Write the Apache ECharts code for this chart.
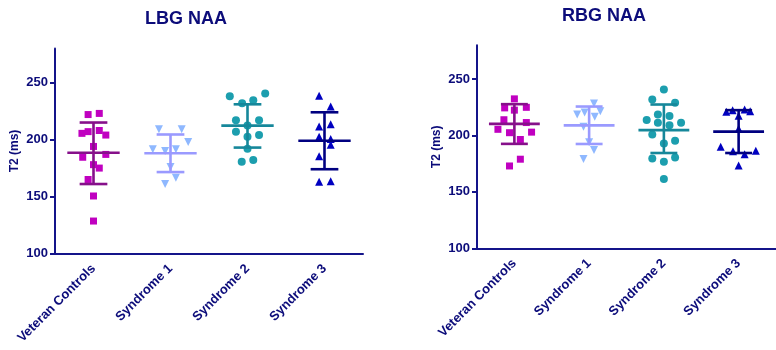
<!DOCTYPE html>
<html><head><meta charset="utf-8">
<script src="https://cdn.jsdelivr.net/npm/echarts@6/dist/echarts.min.js"></script>
<style>html,body{margin:0;padding:0;background:#fff}#c{width:776px;height:350px}</style>
</head><body><div id="c"></div>
<script>
const categories = ['Veteran Controls', 'Syndrome 1', 'Syndrome 2', 'Syndrome 3'];
const yTicks = [100, 150, 200, 250];
const titles = ['LBG NAA', 'RBG NAA'];

// LBG NAA values (ms) and horizontal jitter (category units)
const lbgVC = [222, 223, 205.5, 207, 208, 204, 194, 184.5, 187, 175, 178, 165, 150.5, 128.5];
const lbgVCj = [-0.07, 0.075, -0.15, -0.07, 0.075, 0.16, 0, -0.14, 0.16, 0.075, 0, -0.07, 0, 0];
const lbgS1 = [209, 209, 198, 191.5, 190, 191.5, 176, 166.5, 161];
const lbgS1j = [-0.15, 0.145, 0.23, -0.23, -0.07, 0.07, 0, 0.07, -0.07];
const lbgS2 = [238, 232, 234.5, 240.5, 217, 217, 207, 212.5, 202.5, 204, 192, 180.5, 182];
const lbgS2j = [-0.23, -0.07, 0.075, 0.23, -0.15, 0.15, -0.15, 0, 0, 0.15, 0, -0.075, 0.075];
const lbgS3 = [238.5, 229, 211.5, 213.5, 202.5, 200.5, 195.5, 185.5, 163, 163.5];
const lbgS3j = [-0.07, 0.08, -0.07, 0.08, -0.07, 0.08, 0.08, -0.07, -0.07, 0.08];
const lbgMean = [188.5, 188, 212.3, 199];
const lbgLow = [161, 171.5, 193, 174];
const lbgHigh = [215, 204.5, 231, 224];

// RBG NAA values (ms) and jitter
const rbgVC = [232.5, 224.5, 222.5, 225, 214, 211.5, 205.5, 202.5, 196.5, 203, 179, 173];
const rbgVCj = [0, -0.13, 0, 0.16, -0.14, 0.16, -0.22, -0.065, 0.08, 0.23, 0.08, -0.065];
const rbgS1 = [228.5, 218.7, 220.5, 216.6, 221.6, 207.7, 194, 187.1, 179.1];
const rbgS1j = [0.065, -0.16, -0.06, 0.075, 0.15, -0.075, 0, 0.065, -0.075];
const rbgS2 = [240.9, 232, 229, 218.7, 217.2, 213.7, 211.3, 209.2, 211.3, 201, 193, 195.3, 179.7, 176.7, 180.6, 161.4];
const rbgS2j = [0, -0.155, 0.15, -0.08, 0.075, -0.23, -0.08, 0.075, 0.23, -0.155, 0, 0.15, -0.155, 0, 0.15, 0];
const rbgS3 = [221, 222.5, 223, 221.5, 217.5, 206, 190, 186, 183.5, 186.5, 173.5];
const rbgS3j = [-0.165, -0.08, 0.08, 0.155, 0, 0, -0.24, -0.075, 0.08, 0.23, 0];
const rbgMean = [210.3, 209, 204.8, 203.5];
const rbgLow = [192.6, 192.5, 184.5, 184.5];
const rbgHigh = [227.8, 225.7, 227.5, 222.5];

const TXT = '#0c0c7a';
const AX = '#14148a';
const pointColors = ['#c000c0', '#8fb8ff', '#1c9eae', '#0000c0'];
const barColors = ['#86108a', '#9a9aff', '#16879a', '#000080'];
const symbols = ['rect', 'triangle', 'circle', 'triangle'];
const symRot = [0, 180, 0, 0];
const symSize = [7, 8, 8, 8];

const panels = [
  {vals: [lbgVC, lbgS1, lbgS2, lbgS3], jit: [lbgVCj, lbgS1j, lbgS2j, lbgS3j], mean: lbgMean, lo: lbgLow, hi: lbgHigh},
  {vals: [rbgVC, rbgS1, rbgS2, rbgS3], jit: [rbgVCj, rbgS1j, rbgS2j, rbgS3j], mean: rbgMean, lo: rbgLow, hi: rbgHigh}
];

const grids = [
  {left: 55, top: 48.5, width: 308, height: 205},
  {left: 477, top: 45.3, width: 304, height: 203}
];

const xAxis = [], yAxis = [], series = [];
panels.forEach((p, g) => {
  xAxis.push({
    type: 'category', gridIndex: g, data: categories, boundaryGap: true,
    axisLine: {onZero: false, lineStyle: {color: AX, width: 2}},
    axisTick: {alignWithLabel: true, length: 4, lineStyle: {color: AX, width: 2}},
    axisLabel: {rotate: 45, color: TXT, fontWeight: 'bold', fontSize: 13, fontFamily: 'Liberation Sans, Arial', margin: 13},
    splitLine: {show: false}
  });
  xAxis.push({type: 'value', gridIndex: g, min: -0.5, max: 3.5, show: false});
  yAxis.push({
    type: 'value', gridIndex: g, min: 100, max: 280,
    name: 'T2 (ms)', nameLocation: 'middle', nameGap: 34,
    nameTextStyle: {color: TXT, fontWeight: 'bold', fontSize: 12, fontFamily: 'Liberation Sans, Arial'},
    axisLine: {show: true, onZero: false, lineStyle: {color: AX, width: 2}},
    axisTick: {show: true, length: 5, customValues: yTicks, lineStyle: {color: AX, width: 2}},
    axisLabel: {customValues: yTicks, color: TXT, fontWeight: 'bold', fontSize: 13, fontFamily: 'Liberation Sans, Arial', margin: 7},
    splitLine: {show: false}
  });
  p.vals.forEach((arr, k) => {
    series.push({
      type: 'scatter', xAxisIndex: g * 2 + 1, yAxisIndex: g,
      symbol: symbols[k], symbolRotate: symRot[k], symbolSize: symSize[k],
      itemStyle: {color: pointColors[k], opacity: 1},
      data: arr.map((v, i) => [k + p.jit[k][i], v]),
      z: 2
    });
  });
  series.push({
    type: 'custom', xAxisIndex: g * 2 + 1, yAxisIndex: g, z: 5,
    data: categories.map((c, k) => [k, p.mean[k], p.lo[k], p.hi[k]]),
    renderItem: function (params, api) {
      const k = api.value(0);
      const c = api.coord([k, api.value(1)]);
      const lo = api.coord([k, api.value(2)]);
      const hi = api.coord([k, api.value(3)]);
      const bw = api.size([1, 0])[0];
      const mw = bw * 0.34, cw = bw * 0.18;
      const st = {stroke: barColors[k], lineWidth: 2.6};
      return {type: 'group', children: [
        {type: 'line', shape: {x1: c[0], y1: hi[1], x2: c[0], y2: lo[1]}, style: st},
        {type: 'line', shape: {x1: c[0] - mw, y1: c[1], x2: c[0] + mw, y2: c[1]}, style: st},
        {type: 'line', shape: {x1: c[0] - cw, y1: hi[1], x2: c[0] + cw, y2: hi[1]}, style: st},
        {type: 'line', shape: {x1: c[0] - cw, y1: lo[1], x2: c[0] + cw, y2: lo[1]}, style: st}
      ]};
    }
  });
});

const chart = echarts.init(document.getElementById('c'), null, {renderer: 'canvas'});
chart.setOption({
  animation: false,
  grid: grids,
  xAxis: xAxis,
  yAxis: yAxis,
  series: series,
  graphic: [
    {type: 'text', x: 186, y: 19, style: {text: titles[0], textAlign: 'center', textVerticalAlign: 'middle', fill: TXT, font: 'bold 18px "Liberation Sans", Arial'}},
    {type: 'text', x: 604, y: 16, style: {text: titles[1], textAlign: 'center', textVerticalAlign: 'middle', fill: TXT, font: 'bold 18px "Liberation Sans", Arial'}}
  ]
});
</script></body></html>
